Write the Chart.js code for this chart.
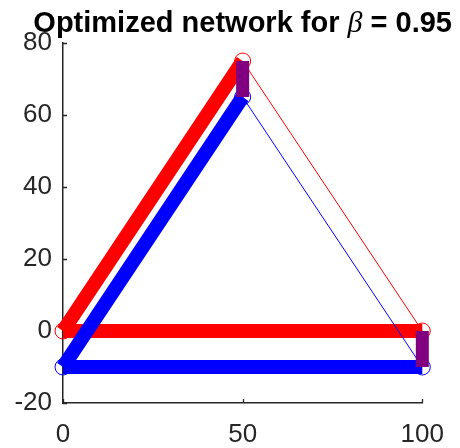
<!DOCTYPE html>
<html>
<head>
<meta charset="utf-8">
<script src="https://cdn.jsdelivr.net/npm/chart.js@4/dist/chart.umd.min.js"></script>
<style>
  html, body { margin: 0; padding: 0; background: #ffffff; }
  #wrap { width: 460px; height: 448px; }
</style>
</head>
<body>
<div id="wrap"><canvas id="chart" width="460" height="448"></canvas></div>
<script>
// Network nodes: shared x positions, one y layer per network
const nodeX = [0, 50, 100];
const redY = [0, 75, 0];
const blueY = [-10, 65, -10];

// Edges as node index pairs, with relative load on each edge
const edges = [[0, 1], [0, 2], [1, 2]];
const redLoad = [1, 1, 0];
const blueLoad = [1, 1, 0];

// Nodes where the two layers are coupled
const linkNodes = [1, 2];

const xTicks = [0, 50, 100];
const yTicks = [-20, 0, 20, 40, 60, 80];

const titleParts = [
  { text: 'Optimized network for ', font: 'bold 29px "Liberation Sans", Arial, sans-serif' },
  { text: '\u03B2', font: 'italic 30px "Liberation Serif", "Times New Roman", serif' },
  { text: ' = 0.95', font: 'bold 29px "Liberation Sans", Arial, sans-serif' }
];

const RED = '#ff0000', BLUE = '#0000ff', PURPLE = '#800080', AXIS = '#262626';
const widthFor = load => 1 + 13 * load;

const datasets = [];

// node markers (drawn beneath the edges)
datasets.push({
  data: nodeX.map((x, i) => ({ x, y: redY[i] })),
  showLine: false, pointRadius: 8, pointBorderWidth: 1, clip: false,
  pointBorderColor: RED, pointBackgroundColor: 'rgba(0,0,0,0)', order: 60
});
datasets.push({
  data: nodeX.map((x, i) => ({ x, y: blueY[i] })),
  showLine: false, pointRadius: 8, pointBorderWidth: 1, clip: false,
  pointBorderColor: BLUE, pointBackgroundColor: 'rgba(0,0,0,0)', order: 59
});

function edgeSets(ys, loads, color, order) {
  edges.forEach(([a, b], k) => {
    datasets.push({
      data: [{ x: nodeX[a], y: ys[a] }, { x: nodeX[b], y: ys[b] }],
      showLine: true, borderColor: color, borderWidth: widthFor(loads[k]),
      borderCapStyle: 'butt', pointRadius: 0, clip: false, order: order
    });
  });
}
edgeSets(redY, redLoad, RED, 40);
edgeSets(blueY, blueLoad, BLUE, 30);

// coupling links between the layers
linkNodes.forEach(n => {
  datasets.push({
    data: [{ x: nodeX[n], y: redY[n] }, { x: nodeX[n], y: blueY[n] }],
    showLine: true, borderColor: PURPLE, borderWidth: 13,
    borderCapStyle: 'butt', pointRadius: 0, clip: false, order: 10
  });
});

// inward tick marks along both axes
const innerTicks = {
  id: 'innerTicks',
  beforeDatasetsDraw(chart) {
    const { ctx, chartArea: ca, scales: { x, y } } = chart;
    ctx.save();
    ctx.strokeStyle = AXIS;
    ctx.lineWidth = 1.3;
    ctx.beginPath();
    xTicks.forEach(v => {
      const px = Math.round(x.getPixelForValue(v)) + 0.5;
      ctx.moveTo(px, ca.bottom); ctx.lineTo(px, ca.bottom - 4);
    });
    yTicks.forEach(v => {
      const py = Math.round(y.getPixelForValue(v)) + 0.5;
      ctx.moveTo(ca.left, py); ctx.lineTo(ca.left + 4, py);
    });
    ctx.stroke();
    ctx.restore();
  }
};

// title with an italic Greek symbol
const mixedTitle = {
  id: 'mixedTitle',
  afterDraw(chart) {
    const { ctx, chartArea: ca } = chart;
    ctx.save();
    ctx.fillStyle = '#000000';
    ctx.textBaseline = 'alphabetic';
    ctx.textAlign = 'left';
    const widths = titleParts.map(p => { ctx.font = p.font; return ctx.measureText(p.text).width; });
    const total = widths.reduce((s, w) => s + w, 0);
    let cx = (ca.left + ca.right) / 2 - total / 2;
    titleParts.forEach((p, i) => {
      ctx.font = p.font;
      ctx.fillText(p.text, cx, 32);
      cx += widths[i];
    });
    ctx.restore();
  }
};

const tickFont = { family: '"Liberation Sans", Arial, sans-serif', size: 26 };

new Chart(document.getElementById('chart'), {
  type: 'scatter',
  data: { datasets },
  options: {
    responsive: false,
    animation: false,
    devicePixelRatio: 1,
    layout: { padding: { top: 43, right: 37, left: 0, bottom: 0 } },
    plugins: { legend: { display: false }, tooltip: { enabled: false }, title: { display: false } },
    scales: {
      x: {
        type: 'linear', min: 0, max: 100,
        afterBuildTicks: s => { s.ticks = xTicks.map(v => ({ value: v })); },
        afterFit: s => { s.height = 45; },
        grid: { drawOnChartArea: false, drawTicks: false },
        border: { display: true, color: AXIS, width: 1.5 },
        ticks: { color: AXIS, font: tickFont, padding: 16, maxRotation: 0 }
      },
      y: {
        type: 'linear', min: -20, max: 80,
        afterBuildTicks: s => { s.ticks = yTicks.map(v => ({ value: v })); },
        afterFit: s => { s.width = 63; },
        grid: { drawOnChartArea: false, drawTicks: false },
        border: { display: true, color: AXIS, width: 1.5 },
        ticks: { color: AXIS, font: tickFont, padding: 11 }
      }
    }
  },
  plugins: [innerTicks, mixedTitle]
});
</script>
</body>
</html>
